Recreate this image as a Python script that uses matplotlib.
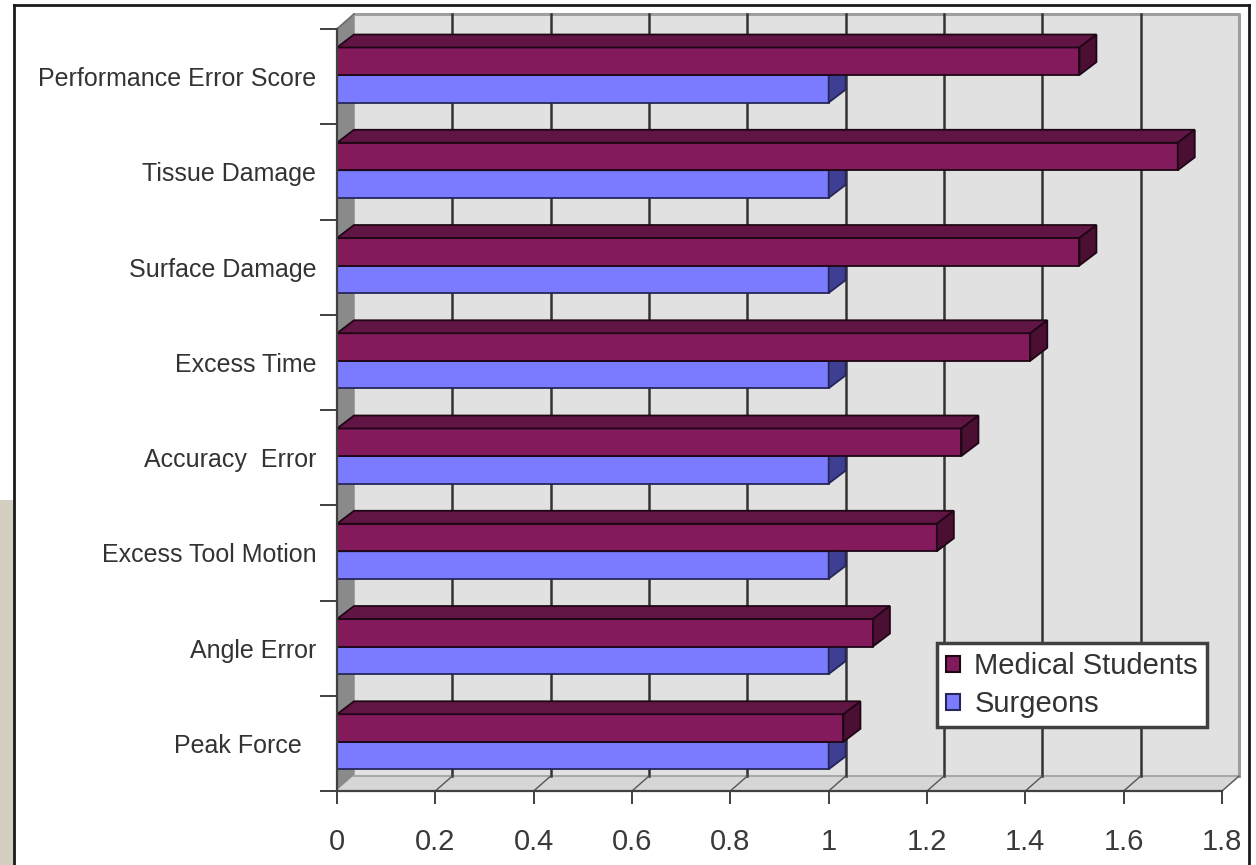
import matplotlib
matplotlib.use("Agg")
import matplotlib.pyplot as plt
from matplotlib.patches import Patch, Rectangle
from matplotlib.lines import Line2D

plt.rcParams['font.family'] = ['Liberation Sans', 'DejaVu Sans']

# ---- data (bottom to top as drawn) ----
categories = ["Peak Force  ", "Angle Error", "Excess Tool Motion", "Accuracy  Error",
              "Excess Time", "Surface Damage", "Tissue Damage", "Performance Error Score"]
medical_students = [1.03, 1.09, 1.22, 1.27, 1.41, 1.51, 1.71, 1.51]
surgeons = [1.0, 1.0, 1.0, 1.0, 1.0, 1.0, 1.0, 1.0]
x_ticks = [0, 0.2, 0.4, 0.6, 0.8, 1.0, 1.2, 1.4, 1.6, 1.8]
x_tick_labels = ["0", "0.2", "0.4", "0.6", "0.8", "1", "1.2", "1.4", "1.6", "1.8"]
series_names = ["Medical Students", "Surgeons"]

W, H = 1256, 865
fig = plt.figure(figsize=(W / 100, H / 100), dpi=100)
fig.patch.set_facecolor("white")

ax = fig.add_axes([337 / W, (H - 791) / H, 885 / W, 762 / H])
ax.set_xlim(0, 1.8)
ax.set_ylim(-0.5, 7.5)
ax.patch.set_visible(False)

n = len(categories)
# depth offsets (data units)
wdx, wdy = 0.0346, 0.157   # walls
bdx, bdy = 0.0346, 0.136   # bars
xmax = 1.8
ylo, yhi = -0.5, n - 0.5

# back wall
ax.fill([wdx, xmax + wdx, xmax + wdx, wdx],
        [ylo + wdy, ylo + wdy, yhi + wdy, yhi + wdy],
        color="#E1E1E1", zorder=0, clip_on=False)
# left wall
ax.fill([0, wdx, wdx, 0], [ylo, ylo + wdy, yhi + wdy, yhi],
        color="#8A8A8A", zorder=0.5, clip_on=False)
# floor
ax.fill([0, xmax, xmax + wdx, wdx], [ylo, ylo, ylo + wdy, ylo + wdy],
        color="#D6D6D6", zorder=0.5, clip_on=False)
# back wall border (top & right) and floor back edge
ax.plot([wdx, xmax + wdx, xmax + wdx], [yhi + wdy, yhi + wdy, ylo + wdy],
        color="#9E9E9E", lw=2.2, zorder=0.6, clip_on=False)
ax.plot([wdx, xmax + wdx], [ylo + wdy, ylo + wdy], color="#A8A8A8", lw=1.5,
        zorder=0.6, clip_on=False)
ax.plot([0, wdx], [yhi, yhi + wdy], color="#6E6E6E", lw=1.2, zorder=0.6, clip_on=False)
# gridlines on back wall + floor diagonals
for v in x_ticks[1:-1]:
    ax.plot([v + wdx, v + wdx], [ylo + wdy, yhi + wdy], color="#333333", lw=1.8,
            zorder=1, clip_on=False)
for v in x_ticks[1:]:
    ax.plot([v, v + wdx], [ylo, ylo + wdy], color="#555555", lw=1.0, zorder=1,
            clip_on=False)

# bars
h = 0.289
med_front, med_top, med_side, med_edge = "#821A5C", "#611544", "#4A0F33", "#1E0614"
sur_front, sur_side, sur_edge = "#7B7BFF", "#3E3E92", "#26265A"


def draw_bar(y0, v, front, top, side, edge, z):
    ax.barh(y0 + h / 2, v, height=h, left=0, color=front, edgecolor=edge,
            lw=1.3, zorder=z, clip_on=False)
    ax.fill([0, bdx, v + bdx, v], [y0 + h, y0 + h + bdy, y0 + h + bdy, y0 + h],
            facecolor=top, edgecolor=edge, lw=1.3, zorder=z, clip_on=False)
    ax.fill([v, v, v + bdx, v + bdx], [y0, y0 + h, y0 + h + bdy, y0 + bdy],
            facecolor=side, edgecolor=edge, lw=1.3, zorder=z, clip_on=False)


for k in range(n):
    draw_bar(k - 0.272, surgeons[k], sur_front, sur_side, sur_side, sur_edge, 2 + k * 0.01)
    draw_bar(k + 0.017, medical_students[k], med_front, med_top, med_side, med_edge,
             3 + k * 0.01)

# axes styling
for s in ["top", "right"]:
    ax.spines[s].set_visible(False)
for s in ["left", "bottom"]:
    ax.spines[s].set_color("#404040")
    ax.spines[s].set_linewidth(1.6)
    ax.spines[s].set_zorder(5)

ax.set_xticks(x_ticks)
ax.set_xticklabels(x_tick_labels)
ax.tick_params(axis="x", direction="out", length=9.5, width=1.4, color="#404040",
               pad=17, labelsize=21, labelcolor="#3A3A3A")

ax.set_yticks([k - 0.5 for k in range(n + 1)])
ax.set_yticklabels([])
ax.set_yticks(list(range(n)), minor=True)
ax.set_yticklabels(categories, minor=True)
ax.tick_params(axis="y", which="major", direction="out", length=12, width=1.4,
               color="#404040")
ax.tick_params(axis="y", which="minor", length=0, pad=15, labelsize=18,
               labelcolor="#333333")

# legend
handles = [Patch(facecolor=med_front, edgecolor=med_edge, lw=1.5),
           Patch(facecolor=sur_front, edgecolor=sur_edge, lw=1.5)]
leg = ax.legend(handles, series_names, loc="lower left", bbox_to_anchor=(0.678, 0.084),
                fontsize=21, frameon=True, fancybox=False, framealpha=1,
                facecolor="white", edgecolor="#404040", borderpad=0.3,
                handlelength=0.48, handleheight=0.48, handletextpad=0.5,
                labelspacing=0.35, borderaxespad=0)
leg.get_frame().set_linewidth(2.5)
for t in leg.get_texts():
    t.set_color("#333333")
leg.set_zorder(10)

# outer frame of screenshot
fig.add_artist(Line2D([14 / W, 1249 / W], [1 - 5 / H, 1 - 5 / H], color="#1A1A1A",
                      lw=2, transform=fig.transFigure))
fig.add_artist(Line2D([1249 / W, 1249 / W], [0, 1 - 5 / H], color="#1A1A1A",
                      lw=2, transform=fig.transFigure))
fig.add_artist(Line2D([14 / W, 14 / W], [0, 1 - 5 / H], color="#1A1A1A",
                      lw=2, transform=fig.transFigure))
fig.add_artist(Rectangle((0, 0), 13 / W, 365 / H, transform=fig.transFigure,
                         facecolor="#D3D0C2", edgecolor="none"))

fig.savefig("out.png", dpi=100, facecolor=fig.get_facecolor())
